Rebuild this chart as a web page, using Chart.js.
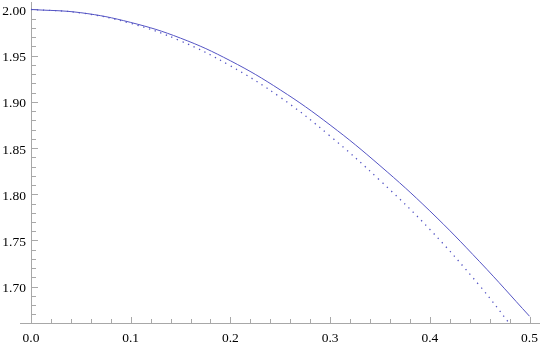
<!DOCTYPE html>
<html>
<head>
<meta charset="utf-8">
<script src="https://cdn.jsdelivr.net/npm/chart.js@4/dist/chart.umd.min.js"></script>
<style>
html,body{margin:0;padding:0;background:#fff;}
#wrap{width:540px;height:347px;position:relative;}
</style>
</head>
<body>
<div id="wrap"><canvas id="c" width="540" height="347"></canvas></div>
<script>
// x positions sampled along the curves
const xSolid = [0, 0.05, 0.1, 0.15, 0.2, 0.25, 0.3, 0.35, 0.4, 0.45, 0.5];
const ySolid = [2.000, 1.9965, 1.986, 1.969, 1.9445, 1.913, 1.875, 1.831, 1.782, 1.727, 1.668];
const xDotted = [0, 0.05, 0.1, 0.15, 0.2, 0.25, 0.3, 0.35, 0.4, 0.45, 0.48];
const yDotted = [2.000, 1.9963, 1.985, 1.966, 1.939, 1.905, 1.863, 1.815, 1.762, 1.701, 1.660];
// tick labels
const xTickValues = [0, 0.1, 0.2, 0.3, 0.4, 0.5];
const xTickLabels = ['0.0', '0.1', '0.2', '0.3', '0.4', '0.5'];
const yTickValues = [1.70, 1.75, 1.80, 1.85, 1.90, 1.95, 2.00];
const yTickLabels = ['1.70', '1.75', '1.80', '1.85', '1.90', '1.95', '2.00'];

const LINE_COLOR = 'rgb(84,84,196)';
const AXIS_COLOR = '#a8a8a8';
const FONT = '13.5px "Liberation Serif", "DejaVu Serif", serif';

const axesPlugin = {
  id: 'mmaAxes',
  beforeDatasetsDraw(chart) {
    const ctx = chart.ctx;
    const xs = chart.scales.x, ys = chart.scales.y;
    const ca = chart.chartArea;
    const x0 = xs.getPixelForValue(0);
    const yb = ys.getPixelForValue(ys.min);
    ctx.save();
    ctx.strokeStyle = AXIS_COLOR;
    ctx.lineWidth = 1;
    ctx.beginPath();
    ctx.moveTo(ca.left, Math.round(yb) + 0.5);
    ctx.lineTo(ca.right, Math.round(yb) + 0.5);
    ctx.moveTo(Math.round(x0) + 0.5, ca.top);
    ctx.lineTo(Math.round(x0) + 0.5, Math.round(yb) + 0.5);
    ctx.stroke();
    ctx.beginPath();
    for (let i = 1; i <= 25; i++) {
      const v = i * 0.02;
      const px = Math.round(xs.getPixelForValue(v)) + 0.5;
      const len = (i % 5 === 0) ? 6 : 4;
      ctx.moveTo(px, Math.round(yb));
      ctx.lineTo(px, Math.round(yb) - len);
    }
    for (let i = 66; i <= 200; i++) {
      const v = i / 100;
      if (v < ys.min || v > ys.max) continue;
      const py = Math.round(ys.getPixelForValue(v)) + 0.5;
      const len = (i % 5 === 0) ? 6 : 4;
      ctx.moveTo(Math.round(x0) + 1, py);
      ctx.lineTo(Math.round(x0) + 1 + len, py);
    }
    ctx.stroke();
    ctx.fillStyle = '#000';
    ctx.font = FONT;
    ctx.textAlign = 'center';
    ctx.textBaseline = 'middle';
    xTickValues.forEach((v, i) => {
      ctx.fillText(xTickLabels[i], xs.getPixelForValue(v), 338);
    });
    ctx.textAlign = 'right';
    yTickValues.forEach((v, i) => {
      ctx.fillText(yTickLabels[i], x0 - 5, ys.getPixelForValue(v) + 2);
    });
    ctx.restore();
  }
};

new Chart(document.getElementById('c'), {
  type: 'scatter',
  data: {
    datasets: [
      {
        data: xSolid.map((x, i) => ({x: x, y: ySolid[i]})),
        showLine: true,
        borderColor: LINE_COLOR,
        borderWidth: 1,
        pointRadius: 0,
        tension: 0.4,
        fill: false
      },
      {
        data: xDotted.map((x, i) => ({x: x, y: yDotted[i]})),
        showLine: true,
        borderColor: LINE_COLOR,
        borderWidth: 1.3,
        borderDash: [1.3, 4.7],
        pointRadius: 0,
        tension: 0.4,
        fill: false
      }
    ]
  },
  options: {
    responsive: false,
    animation: false,
    events: [],
    layout: { padding: { left: 20, right: 0, top: 2, bottom: 24.3 } },
    plugins: { legend: { display: false }, tooltip: { enabled: false } },
    scales: {
      x: { type: 'linear', display: false, min: -0.011, max: 0.5105 },
      y: { type: 'linear', display: false, min: 1.661, max: 2.0081 }
    }
  },
  plugins: [axesPlugin]
});
</script>
</body>
</html>
